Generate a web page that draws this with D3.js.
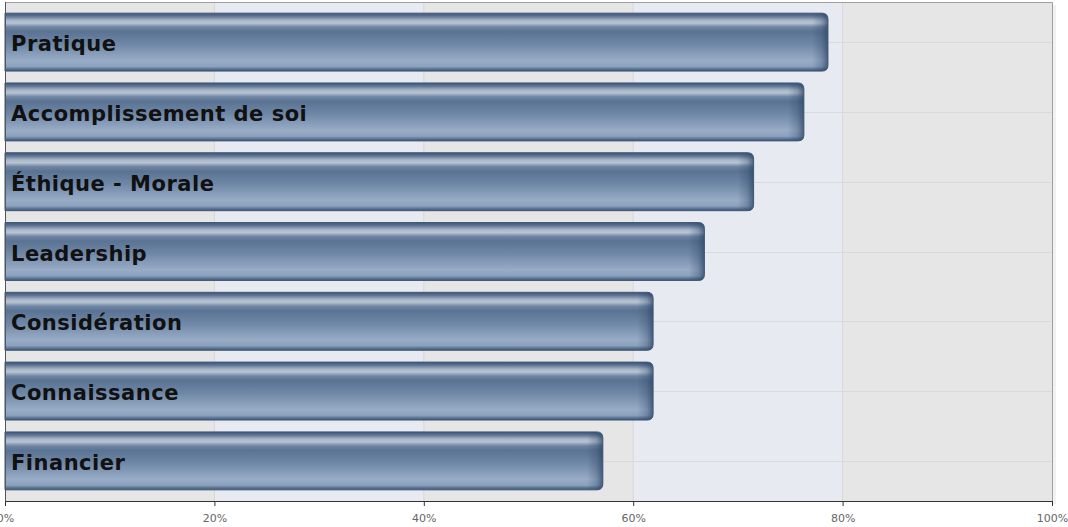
<!DOCTYPE html>
<html>
  <head>
    <meta charset="utf-8">
    <title>Valeurs</title>
    <script src="https://d3js.org/d3.v7.min.js"></script>
    <style>
      body { margin: 0; background: #fff; }
    </style>
  </head>
  <body>
    <script>
        var categories = ["Pratique", "Accomplissement de soi", "Éthique - Morale", "Leadership", "Considération", "Connaissance", "Financier"]
        var values = [78.6, 76.3, 71.5, 66.8, 61.9, 61.9, 57.1]
        var ticks = [0, 20, 40, 60, 80, 100]

        var width = 1068, height = 527
        var plot = {left: 5, right: 1052, top: 2, bottom: 501}

        var data = categories.map(function(c, i) { return {name: c, value: values[i]} })

        var svg = d3.select("body").append("svg")
            .attr("width", width)
            .attr("height", height)

        var x = d3.scaleLinear().domain([0, 100]).range([plot.left, plot.right])
        var y = d3.scaleBand().domain(categories)
            .range([plot.top, plot.bottom])
            .paddingInner(0.17)
            .paddingOuter(0.16)

        var defs = svg.append("defs")

        // faint shadow right of the plot
        svg.append("rect")
            .attr("x", plot.right).attr("y", plot.top + 3)
            .attr("width", 4).attr("height", plot.bottom - plot.top)
            .attr("fill", "#f2f2f2")

        // alternating column bands
        for (var i = 0; i < ticks.length - 1; i++) {
          svg.append("rect")
            .attr("x", x(ticks[i]))
            .attr("y", plot.top)
            .attr("width", x(ticks[i + 1]) - x(ticks[i]))
            .attr("height", plot.bottom - plot.top)
            .attr("fill", i % 2 == 0 ? "#e6e6e6" : "#e7eaf0")
        }

        // grid
        svg.append("g").selectAll("line")
            .data(ticks.slice(1, -1))
            .enter().append("line")
            .attr("x1", function(d) { return x(d) }).attr("x2", function(d) { return x(d) })
            .attr("y1", plot.top).attr("y2", plot.bottom)
            .attr("stroke", "#d6d6dc").attr("stroke-width", 1)

        svg.append("g").selectAll("line")
            .data(categories)
            .enter().append("line")
            .attr("x1", plot.left).attr("x2", plot.right)
            .attr("y1", function(d) { return Math.round(y(d) + y.bandwidth() / 2) + 0.5 })
            .attr("y2", function(d) { return Math.round(y(d) + y.bandwidth() / 2) + 0.5 })
            .attr("stroke", "#dadada").attr("stroke-width", 1)

        // frame (top / right)
        svg.append("path")
            .attr("d", "M" + plot.left + "," + (plot.top + 0.5) + "H" + (plot.right + 0.5) + "V" + plot.bottom)
            .attr("fill", "none").attr("stroke", "#a0a0a0")

        // bar gradients
        var vg = defs.append("linearGradient").attr("id", "barV")
            .attr("x1", 0).attr("y1", 0).attr("x2", 0).attr("y2", 1)
        var vstops = [[0, "#3e5676"], [0.05, "#5b7292"], [0.12, "#a6b4c6"], [0.17, "#b9c5d3"],
                      [0.24, "#6f86a3"], [0.32, "#5a7393"], [0.55, "#7189a8"], [0.82, "#98acc6"],
                      [0.92, "#8ba1bd"], [0.97, "#566f8f"], [1, "#3e5676"]]
        vstops.forEach(function(s) {
          vg.append("stop").attr("offset", s[0]).attr("stop-color", s[1])
        })

        function barPath(d) {
          var x0 = x(0), x1 = x(d.value), y0 = y(d.name), h = y.bandwidth(), r = 6
          return "M" + x0 + "," + y0 + "H" + (x1 - r) + "Q" + x1 + "," + y0 + " " + x1 + "," + (y0 + r) +
                 "V" + (y0 + h - r) + "Q" + x1 + "," + (y0 + h) + " " + (x1 - r) + "," + (y0 + h) +
                 "H" + x0 + "Z"
        }

        data.forEach(function(d, i) {
          var hg = defs.append("linearGradient").attr("id", "barH" + i)
              .attr("gradientUnits", "userSpaceOnUse")
              .attr("x1", x(d.value) - 16).attr("x2", x(d.value)).attr("y1", 0).attr("y2", 0)
          hg.append("stop").attr("offset", 0).attr("stop-color", "#2c4566").attr("stop-opacity", 0)
          hg.append("stop").attr("offset", 0.6).attr("stop-color", "#2c4566").attr("stop-opacity", 0.3)
          hg.append("stop").attr("offset", 1).attr("stop-color", "#2c4566").attr("stop-opacity", 0.75)
        })

        var bars = svg.append("g").selectAll("g")
            .data(data)
            .enter().append("g")

        bars.append("path")
            .attr("d", barPath)
            .attr("fill", "url(#barV)")

        bars.append("path")
            .attr("d", barPath)
            .attr("fill", function(d, i) { return "url(#barH" + i + ")" })
            .attr("stroke", "#3f5878")
            .attr("stroke-width", 1)

        bars.append("text")
            .attr("x", x(0) + 6)
            .attr("y", function(d) { return y(d.name) + y.bandwidth() / 2 + 2 })
            .attr("dominant-baseline", "central")
            .attr("font-family", "DejaVu Sans, Verdana, sans-serif")
            .attr("font-weight", "bold")
            .attr("font-size", "21px")
            .attr("letter-spacing", "0.5px")
            .attr("fill", "#111")
            .text(function(d) { return d.name })

        // axes
        svg.append("line")
            .attr("x1", plot.left + 0.5).attr("x2", plot.left + 0.5)
            .attr("y1", plot.top).attr("y2", plot.bottom)
            .attr("stroke", "#555")

        var xAxis = svg.append("g")
            .attr("transform", "translate(0," + plot.bottom + ")")
            .call(d3.axisBottom(x).tickValues(ticks).tickSize(5).tickFormat(function(d) { return d + "%" }))
        xAxis.select(".domain").attr("stroke", "#333")
        xAxis.selectAll(".tick line").attr("stroke", "#333")
        xAxis.selectAll("text")
            .attr("font-family", "DejaVu Sans, Verdana, sans-serif")
            .attr("font-size", "11px")
            .attr("fill", "#666")
            .attr("dy", "1.15em")
    </script>
  </body>
</html>
